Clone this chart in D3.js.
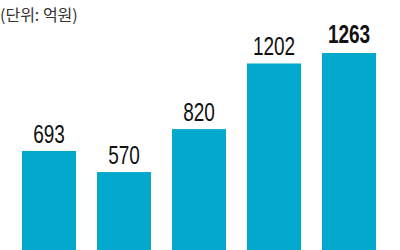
<!DOCTYPE html>
<html>
<head>
<meta charset="utf-8">
<script src="https://cdn.jsdelivr.net/npm/d3@7"></script>
<style>
  body { margin: 0; background: #fff; }
  svg { display: block; }
</style>
</head>
<body>
<svg id="chart" width="400" height="250"></svg>
<script>
// ── Data ──────────────────────────────────────────────────────────────────────

const years  = ['y1', 'y2', 'y3', 'y4', 'y5'];
const values = [693, 570, 820, 1202, 1263];
const unitLabel = '(단위: 억원)';

// ── Setup ─────────────────────────────────────────────────────────────────────

const svg = d3.select('#chart');

const x = d3.scaleBand()
  .domain(years)
  .range([22, 376])
  .paddingInner(0.28)
  .paddingOuter(0);

// baseline sits below the visible frame (bars are cropped at the bottom)
const y = d3.scaleLinear()
  .domain([0, 1263])
  .range([270, 53]);

const data = years.map((k, i) => ({ k, v: values[i], last: i === years.length - 1 }));

svg.append('text')
  .attr('x', 0).attr('y', 21)
  .attr('font-family', '"Noto Sans CJK KR", sans-serif')
  .attr('font-size', 16)
  .attr('fill', '#333')
  .text(unitLabel);

svg.selectAll('.bar')
  .data(data)
  .join('rect')
  .attr('class', 'bar')
  .attr('x', d => x(d.k))
  .attr('y', d => y(d.v))
  .attr('width', x.bandwidth())
  .attr('height', d => y(0) - y(d.v))
  .attr('fill', '#03a9cc');

// condensed value labels
svg.selectAll('.val')
  .data(data)
  .join('text')
  .attr('class', 'val')
  .attr('transform', d =>
    `translate(${x(d.k) + x.bandwidth() / 2},${y(d.v) - (d.last ? 10 : 8)}) scale(0.76,1)`)
  .attr('text-anchor', 'middle')
  .attr('font-family', '"Liberation Sans", Arial, sans-serif')
  .attr('font-size', 25)
  .attr('font-weight', d => d.last ? 'bold' : 'normal')
  .attr('fill', '#111')
  .text(d => d.v);
</script>
</body>
</html>
